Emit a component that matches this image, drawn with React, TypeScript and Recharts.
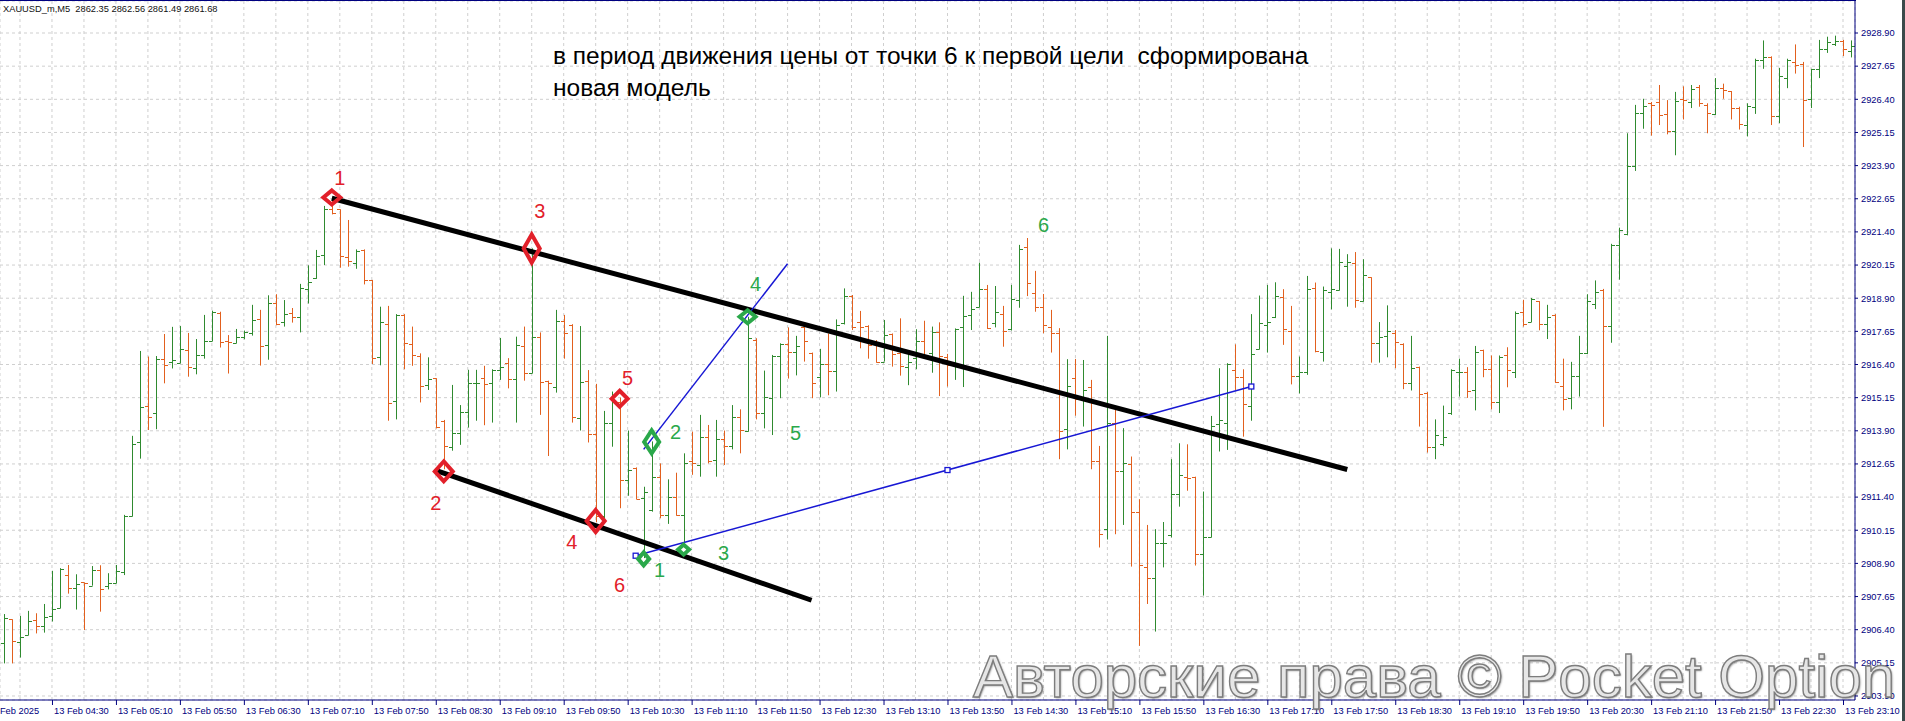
import React from "react"
import { Bar, CartesianGrid, ComposedChart, ReferenceDot, ReferenceLine, XAxis, YAxis } from "recharts"

// XAUUSD_m M5, 13 Feb 2025, one entry per 5-minute bar starting 04:00
const open = [
  2905.89, 2906.79, 2905.93, 2906.19, 2906.76, 2906.54, 2906.91, 2907.21, 2908.45, 2907.97,
  2908.18, 2908.06, 2908.64, 2908.06, 2908.15, 2908.57, 2910.69, 2913.49, 2914.84, 2914.56,
  2916.6, 2916.51, 2916.45, 2916.95, 2916.26, 2916.75, 2917.28, 2918.36, 2917.28, 2917.2,
  2917.43, 2917.59, 2918.11, 2917.14, 2918.71, 2917.99, 2918.33, 2918.18, 2919.25, 2919.65,
  2920.52, 2922.25, 2922.25, 2920.44, 2920.22, 2920.72, 2919.59, 2916.67, 2917.93, 2915.03,
  2918.27, 2917.17, 2916.72, 2915.63, 2915.88, 2914.28, 2913.3, 2913.81, 2914.62, 2915.69,
  2915.88, 2915.69, 2916.19, 2916.45, 2915.84, 2917.1, 2916.07, 2917.43, 2915.79, 2915.57,
  2918.04, 2917.89, 2914.38, 2915.77, 2913.77, 2910.7, 2914.18, 2915.0, 2912.05, 2912.49,
  2911.35, 2910.92, 2912.17, 2910.73, 2911.39, 2910.73, 2912.76, 2912.61, 2913.68, 2912.8,
  2913.58, 2913.33, 2914.43, 2913.9, 2917.33, 2914.59, 2915.12, 2916.72, 2917.17, 2916.88,
  2917.83, 2916.82, 2915.94, 2916.42, 2916.16, 2917.95, 2918.98, 2918.0, 2917.85, 2917.17,
  2916.51, 2917.55, 2916.82, 2916.32, 2916.63, 2917.29, 2916.85, 2917.61, 2916.7, 2916.38,
  2917.8, 2918.26, 2918.56, 2919.24, 2917.98, 2918.31, 2917.73, 2918.83, 2920.82, 2919.09,
  2918.58, 2917.8, 2917.58, 2913.96, 2915.88, 2915.13, 2915.57, 2912.78, 2910.2, 2914.2,
  2912.4, 2912.65, 2910.82, 2908.78, 2908.34, 2909.66, 2909.97, 2911.51, 2912.17, 2912.15,
  2909.24, 2909.88, 2914.15, 2914.18, 2916.19, 2915.94, 2914.84, 2916.97, 2917.9, 2918.2,
  2918.96, 2917.66, 2915.97, 2916.13, 2919.27, 2916.88, 2919.15, 2919.21, 2920.12, 2920.22,
  2918.81, 2919.69, 2917.2, 2917.49, 2917.58, 2917.17, 2915.69, 2916.29, 2915.34, 2913.28,
  2913.4, 2914.57, 2916.1, 2916.13, 2915.44, 2916.93, 2916.24, 2915.0, 2916.74, 2916.13,
  2918.39, 2918.0, 2918.79, 2917.92, 2918.27, 2915.58, 2915.14, 2915.96, 2916.82, 2918.7,
  2919.22, 2917.87, 2920.92, 2921.31, 2923.9, 2925.9, 2926.25, 2926.3, 2925.85, 2925.2,
  2926.42, 2926.3, 2926.85, 2926.19, 2925.85, 2926.82, 2926.71, 2926.07, 2925.43, 2926.12,
  2927.89, 2927.98, 2925.78, 2927.2, 2927.81, 2927.72, 2926.42, 2927.55, 2928.28, 2928.48,
  2928.59, 2928.21,
]

const high = [
  2906.99, 2906.79, 2906.92, 2907.11, 2907.02, 2907.37, 2908.62, 2908.72, 2908.84, 2908.49,
  2908.18, 2908.8, 2908.83, 2908.53, 2908.84, 2910.73, 2913.71, 2916.91, 2916.7, 2916.72,
  2917.55, 2917.82, 2917.85, 2917.59, 2917.36, 2918.27, 2918.43, 2918.39, 2917.51, 2917.74,
  2917.68, 2918.65, 2918.46, 2919.01, 2919.05, 2918.83, 2918.53, 2919.44, 2920.14, 2920.72,
  2922.38, 2922.62, 2922.25, 2921.85, 2920.74, 2920.74, 2919.59, 2918.58, 2918.61, 2918.3,
  2918.3, 2917.83, 2916.82, 2916.67, 2915.88, 2914.31, 2915.63, 2914.87, 2916.2, 2916.2,
  2916.35, 2916.22, 2917.4, 2916.64, 2917.45, 2917.83, 2920.78, 2917.61, 2915.79, 2918.46,
  2918.27, 2917.92, 2917.85, 2916.19, 2915.67, 2914.65, 2915.38, 2915.15, 2913.91, 2912.52,
  2911.79, 2913.5, 2912.67, 2912.07, 2912.32, 2913.05, 2913.87, 2914.5, 2914.12, 2914.31,
  2913.91, 2914.87, 2914.71, 2918.2, 2917.39, 2916.17, 2916.76, 2917.2, 2917.8, 2917.48,
  2917.85, 2916.85, 2916.99, 2917.57, 2918.1, 2919.27, 2919.02, 2918.42, 2917.88, 2917.32,
  2918.08, 2917.57, 2918.14, 2916.8, 2917.73, 2918.05, 2917.83, 2917.99, 2916.8, 2917.76,
  2918.99, 2919.14, 2920.24, 2919.4, 2919.36, 2918.61, 2919.4, 2920.91, 2921.17, 2919.93,
  2919.06, 2918.46, 2917.77, 2916.6, 2916.61, 2916.57, 2915.82, 2913.33, 2917.48, 2914.75,
  2914.0, 2912.93, 2911.32, 2910.35, 2910.19, 2910.46, 2912.83, 2913.43, 2913.39, 2912.17,
  2911.61, 2914.46, 2916.26, 2916.45, 2917.16, 2916.22, 2918.3, 2919.0, 2919.4, 2919.5,
  2919.24, 2918.61, 2916.7, 2919.74, 2919.49, 2919.34, 2920.78, 2920.76, 2920.56, 2920.64,
  2920.37, 2919.69, 2918.0, 2918.63, 2917.7, 2917.2, 2917.48, 2916.32, 2915.36, 2914.33,
  2914.85, 2916.22, 2916.62, 2916.3, 2917.1, 2916.96, 2916.74, 2916.74, 2917.05, 2918.4,
  2918.84, 2918.91, 2918.79, 2918.65, 2918.3, 2916.62, 2916.5, 2917.48, 2919.05, 2919.57,
  2919.25, 2920.95, 2921.56, 2925.12, 2926.19, 2926.42, 2926.3, 2926.94, 2926.37, 2926.68,
  2926.89, 2926.94, 2926.94, 2926.25, 2927.2, 2926.99, 2926.71, 2926.12, 2926.25, 2927.93,
  2928.62, 2928.02, 2927.58, 2927.93, 2928.47, 2927.81, 2927.55, 2928.64, 2928.76, 2928.8,
  2928.64, 2928.62,
]

const low = [
  2905.13, 2905.13, 2905.35, 2906.19, 2906.26, 2906.29, 2906.71, 2907.21, 2907.76, 2907.16,
  2906.39, 2908.06, 2907.08, 2907.92, 2908.15, 2908.46, 2910.67, 2912.85, 2913.93, 2913.96,
  2915.69, 2916.25, 2916.45, 2915.94, 2916.03, 2916.62, 2917.28, 2917.04, 2916.06, 2917.2,
  2917.35, 2917.49, 2916.36, 2916.58, 2917.88, 2917.83, 2917.98, 2917.61, 2918.7, 2919.63,
  2920.15, 2922.06, 2920.05, 2920.09, 2920.01, 2919.42, 2916.42, 2916.37, 2914.28, 2914.33,
  2916.22, 2916.35, 2914.97, 2915.44, 2913.99, 2912.45, 2913.15, 2913.37, 2914.02, 2914.28,
  2914.11, 2914.21, 2915.82, 2915.5, 2914.21, 2915.79, 2916.07, 2914.5, 2912.95, 2915.34,
  2916.62, 2914.21, 2913.91, 2913.46, 2910.45, 2910.48, 2913.3, 2910.98, 2911.45, 2911.32,
  2909.1, 2910.85, 2910.6, 2910.39, 2910.7, 2909.5, 2912.24, 2912.17, 2912.67, 2912.17,
  2912.61, 2913.2, 2913.05, 2913.87, 2914.33, 2913.99, 2913.74, 2915.13, 2915.87, 2915.99,
  2916.51, 2915.13, 2915.16, 2915.24, 2915.38, 2917.91, 2917.7, 2917.01, 2916.62, 2916.47,
  2916.51, 2916.32, 2915.98, 2915.62, 2916.22, 2916.63, 2916.09, 2915.21, 2915.57, 2915.82,
  2915.55, 2917.7, 2918.56, 2917.74, 2917.8, 2917.07, 2917.68, 2918.54, 2918.98, 2918.39,
  2917.58, 2916.85, 2912.83, 2913.2, 2914.47, 2914.06, 2912.45, 2909.5, 2909.8, 2910.0,
  2910.35, 2908.78, 2905.79, 2907.37, 2906.33, 2908.75, 2909.88, 2911.04, 2911.64, 2908.82,
  2907.69, 2909.88, 2913.12, 2913.18, 2915.44, 2913.68, 2914.28, 2916.97, 2916.85, 2918.15,
  2917.14, 2915.65, 2915.31, 2916.01, 2916.86, 2916.51, 2918.48, 2919.19, 2918.58, 2918.54,
  2918.77, 2916.47, 2916.47, 2916.67, 2916.26, 2915.47, 2915.42, 2914.06, 2913.08, 2912.83,
  2913.32, 2914.5, 2915.19, 2915.14, 2914.67, 2915.92, 2914.71, 2914.57, 2915.54, 2915.89,
  2917.83, 2918.0, 2917.69, 2917.36, 2915.71, 2914.67, 2914.71, 2915.19, 2916.79, 2918.49,
  2914.05, 2917.22, 2919.6, 2921.27, 2923.7, 2925.29, 2925.03, 2925.43, 2925.08, 2924.29,
  2925.64, 2926.07, 2926.12, 2925.12, 2925.81, 2926.42, 2925.64, 2925.26, 2925.0, 2925.85,
  2927.55, 2925.43, 2925.5, 2926.82, 2927.37, 2924.6, 2926.07, 2927.2, 2928.15, 2928.41,
  2928.03, 2927.98,
]

const close = [
  2906.83, 2905.96, 2906.11, 2906.72, 2906.54, 2906.88, 2907.17, 2908.69, 2907.97, 2908.11,
  2908.15, 2908.64, 2907.92, 2908.15, 2908.63, 2910.7, 2913.4, 2914.79, 2914.41, 2916.6,
  2916.37, 2916.56, 2916.97, 2916.3, 2916.75, 2917.28, 2918.39, 2917.24, 2917.26, 2917.43,
  2917.62, 2918.07, 2917.1, 2918.71, 2917.92, 2918.29, 2918.18, 2919.27, 2919.5, 2920.49,
  2922.25, 2922.1, 2920.49, 2920.29, 2920.68, 2919.59, 2916.63, 2918.0, 2914.94, 2918.27,
  2917.2, 2916.76, 2915.59, 2915.84, 2914.03, 2913.33, 2913.81, 2914.62, 2915.69, 2915.72,
  2915.67, 2916.19, 2916.3, 2915.84, 2917.15, 2916.07, 2917.43, 2915.73, 2915.7, 2918.04,
  2917.58, 2914.41, 2915.73, 2913.77, 2910.7, 2914.18, 2915.0, 2912.05, 2912.43, 2911.34,
  2911.61, 2912.17, 2910.73, 2911.39, 2910.73, 2912.7, 2912.7, 2913.68, 2912.77, 2913.58,
  2913.33, 2914.43, 2913.93, 2917.4, 2914.59, 2915.16, 2916.72, 2917.17, 2916.88, 2917.11,
  2917.29, 2915.69, 2916.42, 2916.16, 2917.89, 2918.98, 2917.8, 2917.83, 2917.14, 2916.51,
  2917.5, 2916.8, 2916.35, 2916.48, 2917.29, 2916.7, 2917.61, 2916.72, 2916.38, 2917.75,
  2918.23, 2918.51, 2919.24, 2917.77, 2918.37, 2917.68, 2918.86, 2920.74, 2919.46, 2918.58,
  2917.89, 2917.58, 2913.91, 2915.59, 2915.09, 2915.44, 2912.78, 2910.0, 2914.2, 2912.4,
  2912.68, 2910.82, 2908.84, 2908.34, 2909.66, 2909.68, 2911.52, 2912.22, 2912.11, 2909.24,
  2909.88, 2914.08, 2914.31, 2916.41, 2915.94, 2914.9, 2916.8, 2917.95, 2918.0, 2919.0,
  2917.73, 2915.97, 2916.12, 2919.24, 2916.91, 2919.21, 2919.25, 2920.26, 2920.25, 2918.83,
  2919.78, 2917.2, 2917.45, 2917.66, 2917.23, 2915.69, 2916.26, 2915.29, 2913.28, 2913.74,
  2913.65, 2916.18, 2916.13, 2915.4, 2916.88, 2916.22, 2915.0, 2916.7, 2916.18, 2918.35,
  2917.92, 2918.87, 2917.92, 2918.18, 2915.75, 2915.09, 2915.96, 2916.84, 2918.79, 2919.13,
  2917.87, 2920.9, 2921.47, 2923.87, 2925.9, 2926.16, 2926.19, 2925.81, 2925.2, 2926.33,
  2926.37, 2926.77, 2926.25, 2925.9, 2926.82, 2926.75, 2926.07, 2925.46, 2926.16, 2927.89,
  2927.98, 2925.78, 2927.29, 2927.89, 2927.69, 2926.37, 2927.55, 2928.28, 2928.55, 2928.59,
  2928.28, 2928.41,
]

const xTickLabels = [
  "13 Feb 04:30", "13 Feb 05:10", "13 Feb 05:50", "13 Feb 06:30", "13 Feb 07:10", "13 Feb 07:50",
  "13 Feb 08:30", "13 Feb 09:10", "13 Feb 09:50", "13 Feb 10:30", "13 Feb 11:10", "13 Feb 11:50",
  "13 Feb 12:30", "13 Feb 13:10", "13 Feb 13:50", "13 Feb 14:30", "13 Feb 15:10", "13 Feb 15:50",
  "13 Feb 16:30", "13 Feb 17:10", "13 Feb 17:50", "13 Feb 18:30", "13 Feb 19:10", "13 Feb 19:50",
  "13 Feb 20:30", "13 Feb 21:10", "13 Feb 21:50", "13 Feb 22:30", "13 Feb 23:10",
]
const firstDateLabel = "13 Feb 2025"

const yTicks = [
  2903.9, 2905.15, 2906.4, 2907.65, 2908.9, 2910.15, 2911.4, 2912.65, 2913.9, 2915.15, 2916.4,
  2917.65, 2918.9, 2920.15, 2921.4, 2922.65, 2923.9, 2925.15, 2926.4, 2927.65, 2928.9,
]

// drawn objects, anchored at [bar index, price]
const trendLines = [
  { from: [41, 2922.67], to: [168, 2912.44], color: "#000000", width: 5 },
  { from: [54, 2912.41], to: [101, 2907.51], color: "#000000", width: 5 },
  { from: [80, 2913.2], to: [98, 2920.2], color: "#1717d4", width: 1.5 },
  { from: [79, 2909.19], to: [156, 2915.57], color: "#1717d4", width: 1.5 },
]
const lineHandles = [
  { bar: 79, price: 2909.19 },
  { bar: 118, price: 2912.42 },
  { bar: 156, price: 2915.57 },
]

const RED = "#e2202a"
const GREEN = "#2aa84a"

const diamonds = [
  { bar: 41, price: 2922.7, color: RED, w: 21, h: 18 },
  { bar: 55, price: 2912.37, color: RED, w: 22, h: 24 },
  { bar: 66, price: 2920.77, color: RED, w: 20, h: 32 },
  { bar: 74, price: 2910.5, color: RED, w: 22, h: 26 },
  { bar: 77, price: 2915.11, color: RED, w: 20, h: 20 },
  { bar: 80, price: 2909.07, color: GREEN, w: 15, h: 17 },
  { bar: 81, price: 2913.48, color: GREEN, w: 19, h: 27 },
  { bar: 85, price: 2909.42, color: GREEN, w: 15, h: 14 },
  { bar: 93, price: 2918.2, color: GREEN, w: 20, h: 17 },
]

const pointLabels = [
  { bar: 42, price: 2923.42, text: "1", color: RED },
  { bar: 54, price: 2911.17, text: "2", color: RED },
  { bar: 67, price: 2922.2, text: "3", color: RED },
  { bar: 71, price: 2909.72, text: "4", color: RED },
  { bar: 78, price: 2915.88, text: "5", color: RED },
  { bar: 77, price: 2908.09, text: "6", color: RED },
  { bar: 82, price: 2908.65, text: "1", color: GREEN },
  { bar: 84, price: 2913.87, text: "2", color: GREEN },
  { bar: 90, price: 2909.28, text: "3", color: GREEN },
  { bar: 94, price: 2919.44, text: "4", color: GREEN },
  { bar: 99, price: 2913.83, text: "5", color: GREEN },
  { bar: 130, price: 2921.66, text: "6", color: GREEN },
]

const NAVY = "#000080"
const BAR_UP = "#2f8a2f"
const BAR_DOWN = "#e2601e"
const FONT = "'Liberation Sans', Arial, sans-serif"

const barTimes = open.map((_, i) => {
  const m = 240 + 5 * i
  return String(Math.floor(m / 60)).padStart(2, "0") + ":" + String(m % 60).padStart(2, "0")
})

const data = barTimes.map((t, i) => ({ t, open: open[i], high: high[i], low: low[i], close: close[i] }))

const gridTicks = barTimes.filter((_, i) => i % 4 === 2)
const labelAt: Record<string, string> = Object.fromEntries(xTickLabels.map((l) => [l.slice(-5), l]))

const OhlcBar = (props: any) => {
  const { x, y, width, height, payload } = props
  if (x == null || !payload) return <g />
  const cx = Math.round(x + width / 2) + 0.5
  const top = Math.min(y, y + height)
  const h = Math.abs(height)
  const span = payload.high - payload.low
  const py = (v: number) => Math.round(span > 0 ? top + ((payload.high - v) / span) * h : top) + 0.5
  const c = payload.close >= payload.open ? BAR_UP : BAR_DOWN
  return (
    <g stroke={c} strokeWidth={1}>
      <line x1={cx} x2={cx} y1={top} y2={top + h} />
      <line x1={cx - 3.5} x2={cx} y1={py(payload.open)} y2={py(payload.open)} />
      <line x1={cx} x2={cx + 3.5} y1={py(payload.close)} y2={py(payload.close)} />
    </g>
  )
}

const XTick = (props: any) => {
  const { x, y, payload, index } = props
  const label = labelAt[payload.value]
  return (
    <g>
      {index === 0 && (
        <text x={x - 33} y={y + 14} fill={NAVY} fontSize={9.3} fontFamily={FONT}>
          {firstDateLabel}
        </text>
      )}
      {label && (
        <>
          <line x1={x + 0.5} x2={x + 0.5} y1={y} y2={y + 5} stroke={NAVY} />
          <text x={x + 2} y={y + 14} fill={NAVY} fontSize={9.3} fontFamily={FONT}>
            {label}
          </text>
        </>
      )}
    </g>
  )
}

export default function App() {
  return (
    <div style={{ position: "absolute", left: 0, top: 0, width: 1905, height: 721, background: "#fff", overflow: "hidden" }}>
      <ComposedChart width={1905} height={721} data={data} margin={{ top: 1, right: 0, bottom: 0, left: 0 }} barCategoryGap={0}>
        <CartesianGrid stroke="#cfcfcf" strokeDasharray="3 3" />
        <XAxis
          dataKey="t"
          type="category"
          ticks={gridTicks}
          interval={0}
          height={21}
          tickSize={0}
          tickMargin={0}
          tickLine={false}
          axisLine={{ stroke: NAVY }}
          tick={<XTick />}
        />
        <YAxis
          orientation="right"
          width={50}
          domain={[2903.749, 2930.107]}
          allowDataOverflow
          ticks={yTicks}
          interval={0}
          tickSize={3}
          tickMargin={3}
          tickFormatter={(v: number) => v.toFixed(2)}
          axisLine={{ stroke: NAVY }}
          tickLine={{ stroke: NAVY }}
          tick={{ fill: NAVY, fontSize: 9.3, fontFamily: FONT }}
        />
        <Bar dataKey={(d: any) => [d.low, d.high]} shape={<OhlcBar />} isAnimationActive={false} />
        {trendLines.map((l, i) => (
          <ReferenceLine
            key={"tl" + i}
            segment={[
              { x: barTimes[l.from[0]], y: l.from[1] },
              { x: barTimes[l.to[0]], y: l.to[1] },
            ]}
            stroke={l.color}
            strokeWidth={l.width}
            ifOverflow="visible"
          />
        ))}
        {lineHandles.map((p, i) => (
          <ReferenceDot
            key={"h" + i}
            x={barTimes[p.bar]}
            y={p.price}
            r={3}
            ifOverflow="visible"
            shape={(s: any) => (
              <rect x={s.cx - 2.5} y={s.cy - 2.5} width={5} height={5} fill="#fff" stroke="#1717d4" strokeWidth={1.3} />
            )}
          />
        ))}
        {diamonds.map((d, i) => (
          <ReferenceDot
            key={"d" + i}
            x={barTimes[d.bar]}
            y={d.price}
            r={3}
            ifOverflow="visible"
            shape={(s: any) => {
              const hw = (d.w - 4) / 2
              const hh = (d.h - 4) / 2
              return (
                <path
                  d={`M${s.cx},${s.cy - hh} L${s.cx + hw},${s.cy} L${s.cx},${s.cy + hh} L${s.cx - hw},${s.cy} Z`}
                  fill="none"
                  stroke={d.color}
                  strokeWidth={4}
                  strokeLinejoin="miter"
                />
              )
            }}
          />
        ))}
        {pointLabels.map((p, i) => (
          <ReferenceDot
            key={"l" + i}
            x={barTimes[p.bar]}
            y={p.price}
            r={2}
            ifOverflow="visible"
            shape={(s: any) => (
              <text x={s.cx} y={s.cy + 7} textAnchor="middle" fill={p.color} fontSize={20} fontFamily={FONT}>
                {p.text}
              </text>
            )}
          />
        ))}
      </ComposedChart>
      <div style={{ position: "absolute", left: 0, top: 0, width: 1856, height: 1, background: NAVY }} />
      <div style={{ position: "absolute", left: 3, top: 4, fontFamily: FONT, fontSize: 9.3, color: "#111", whiteSpace: "pre", lineHeight: "11px" }}>
        {"XAUUSD_m,M5  2862.35 2862.56 2861.49 2861.68"}
      </div>
      <div style={{ position: "absolute", left: 553, top: 40, fontFamily: FONT, fontSize: 24.5, lineHeight: "32px", color: "#000", whiteSpace: "pre" }}>
        {"в период движения цены от точки 6 к первой цели  сформирована\nновая модель"}
      </div>
      <div
        style={{
          position: "absolute",
          left: 973,
          top: 647,
          fontFamily: FONT,
          fontSize: 60,
          lineHeight: "60px",
          color: "#e6e6e6",
          WebkitTextStroke: "1.4px #7d7d7d",
          textShadow: "1px 1px 2px rgba(0,0,0,0.5)",
          whiteSpace: "nowrap",
          pointerEvents: "none",
        }}
      >
        Авторские права © Pocket Option
      </div>
      <div style={{ position: "absolute", left: 1902, top: 0, width: 3, height: 721, background: "#3b4a4a" }} />
    </div>
  )
}
